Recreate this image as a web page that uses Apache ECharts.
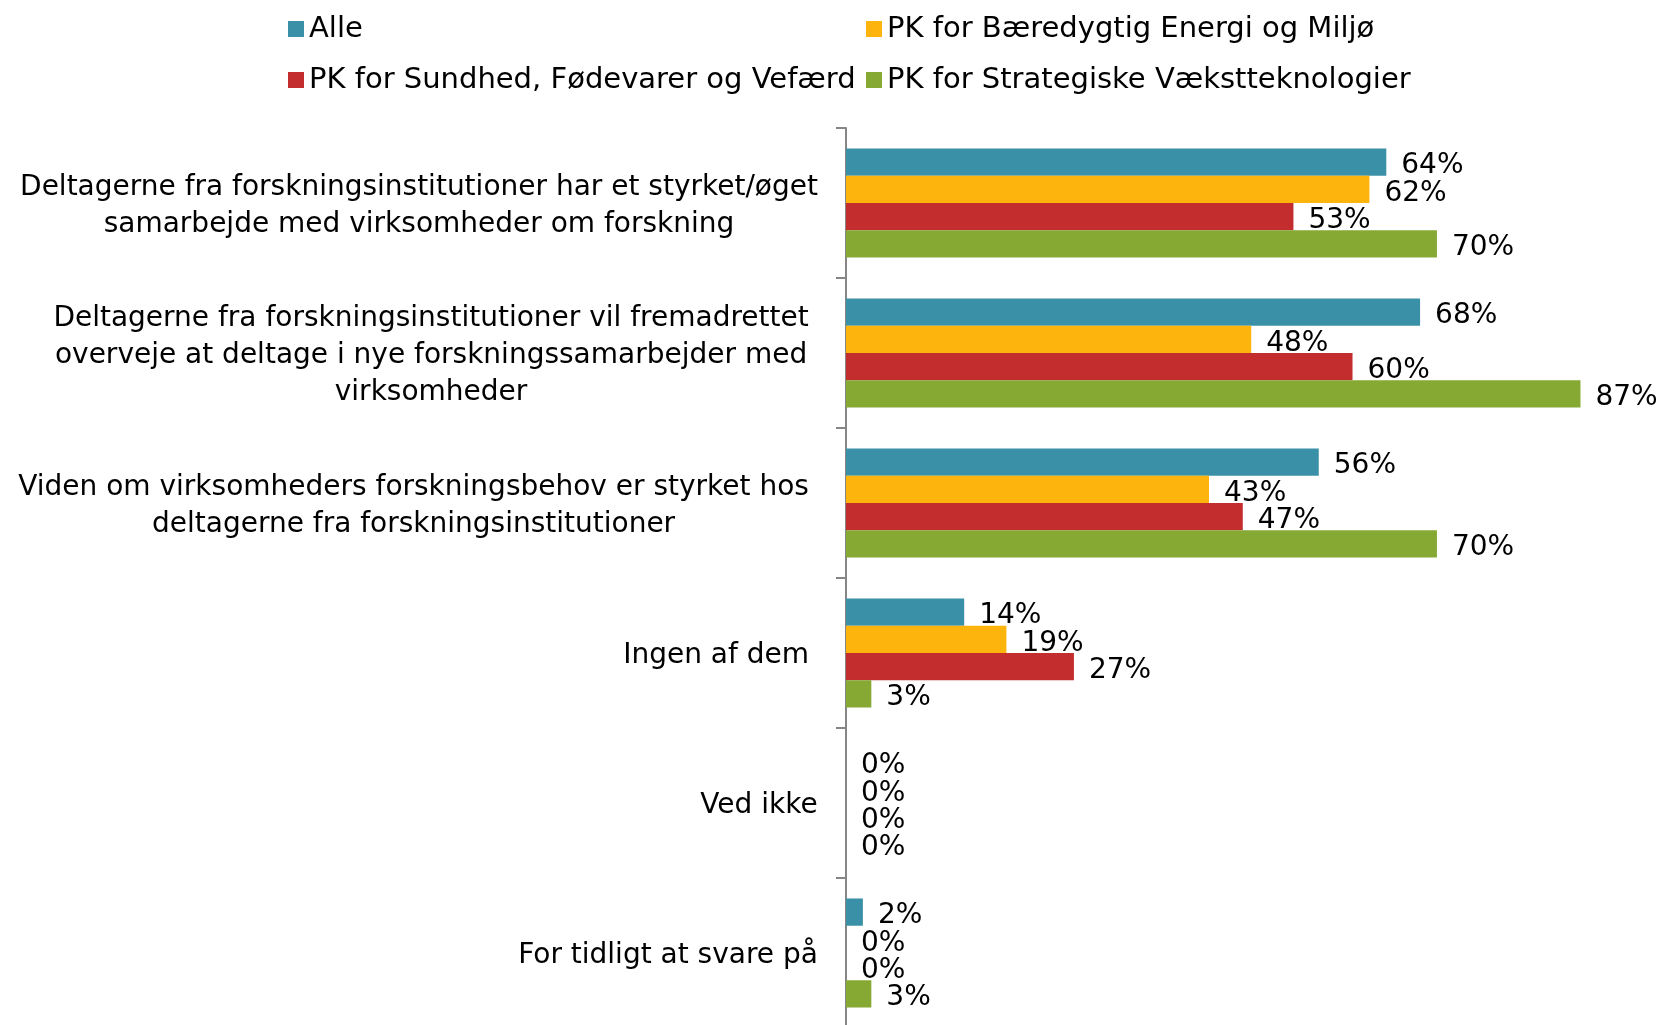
<!DOCTYPE html>
<html>
<head>
<meta charset="utf-8">
<script src="https://cdn.jsdelivr.net/npm/echarts@6/dist/echarts.min.js"></script>
<style>
  html, body { margin: 0; padding: 0; background: #fff; }
  #chart { width: 1661px; height: 1025px; }
</style>
</head>
<body>
<div id="chart"></div>
<script>
// kategorier (linjeskift som i originalen)
var categories = [
  "Deltagerne fra forskningsinstitutioner har et styrket/øget\nsamarbejde med virksomheder om forskning",
  "Deltagerne fra forskningsinstitutioner vil fremadrettet \noverveje at deltage i nye forskningssamarbejder med \nvirksomheder ",
  "Viden om virksomheders forskningsbehov er styrket hos \ndeltagerne fra forskningsinstitutioner ",
  "Ingen af dem ",
  "Ved ikke",
  "For tidligt at svare på"
];
var seriesNames = [
  "Alle",
  "PK for Bæredygtig Energi og Miljø",
  "PK for Sundhed, Fødevarer og Vefærd",
  "PK for Strategiske Vækstteknologier"
];
var alle = [64, 68, 56, 14, 0, 2];
var baeredygtig = [62, 48, 43, 19, 0, 0];
var sundhed = [53, 60, 47, 27, 0, 0];
var strategiske = [70, 87, 70, 3, 0, 3];

var colors = ["#3A90A7", "#FDB50D", "#C42D2E", "#86A934"];
var font = "DejaVu Sans";

// bredeste linje pr. kategori, så linjerne kan centreres i blokken
var ctx = document.createElement("canvas").getContext("2d");
ctx.font = '28px "' + font + '"';
var rich = {};
categories.forEach(function (c, i) {
  var w = 0;
  c.split("\n").forEach(function (l) {
    w = Math.max(w, ctx.measureText(l).width);
  });
  rich["c" + i] = {
    width: Math.ceil(w),
    align: "center",
    fontSize: 28,
    lineHeight: 37,
    fontFamily: font,
    color: "#000"
  };
});

var chart = echarts.init(document.getElementById("chart"));

var legendPos = [
  { left: 288, top: 13 },
  { left: 866, top: 13 },
  { left: 288, top: 64 },
  { left: 866, top: 64 }
];

var option = {
  animation: false,
  color: colors,
  legend: seriesNames.map(function (n, i) {
    return {
      data: [n],
      left: legendPos[i].left,
      top: legendPos[i].top,
      icon: "rect",
      itemWidth: 16,
      itemHeight: 16,
      padding: 0,
      textStyle: {
        fontSize: 29,
        fontFamily: font,
        color: "#000",
        lineHeight: 32
      }
    };
  }),
  grid: {
    left: 846,
    top: 128,
    width: 802,
    height: 900,
    outerBoundsMode: "none"
  },
  xAxis: {
    type: "value",
    min: 0,
    max: 95,
    show: false
  },
  yAxis: {
    type: "category",
    inverse: true,
    data: categories,
    axisLine: { show: true, lineStyle: { color: "#868686", width: 2 } },
    axisTick: { show: true, length: 10, lineStyle: { color: "#868686", width: 2 } },
    axisLabel: {
      margin: 28,
      padding: [6, 0, 0, 0],
      formatter: function (val, idx) {
        return val.split("\n").map(function (l) {
          return "{c" + idx + "|" + l + "}";
        }).join("\n");
      },
      rich: rich
    }
  },
  series: [alle, baeredygtig, sundhed, strategiske].map(function (d, i) {
    return {
      name: seriesNames[i],
      type: "bar",
      data: d,
      barGap: "0%",
      barCategoryGap: "27.3%",
      label: {
        show: true,
        position: "right",
        distance: 15,
        offset: [0, 4],
        formatter: "{c}%",
        fontSize: 28,
        fontFamily: font,
        color: "#000"
      }
    };
  })
};

option && chart.setOption(option);
</script>
</body>
</html>
